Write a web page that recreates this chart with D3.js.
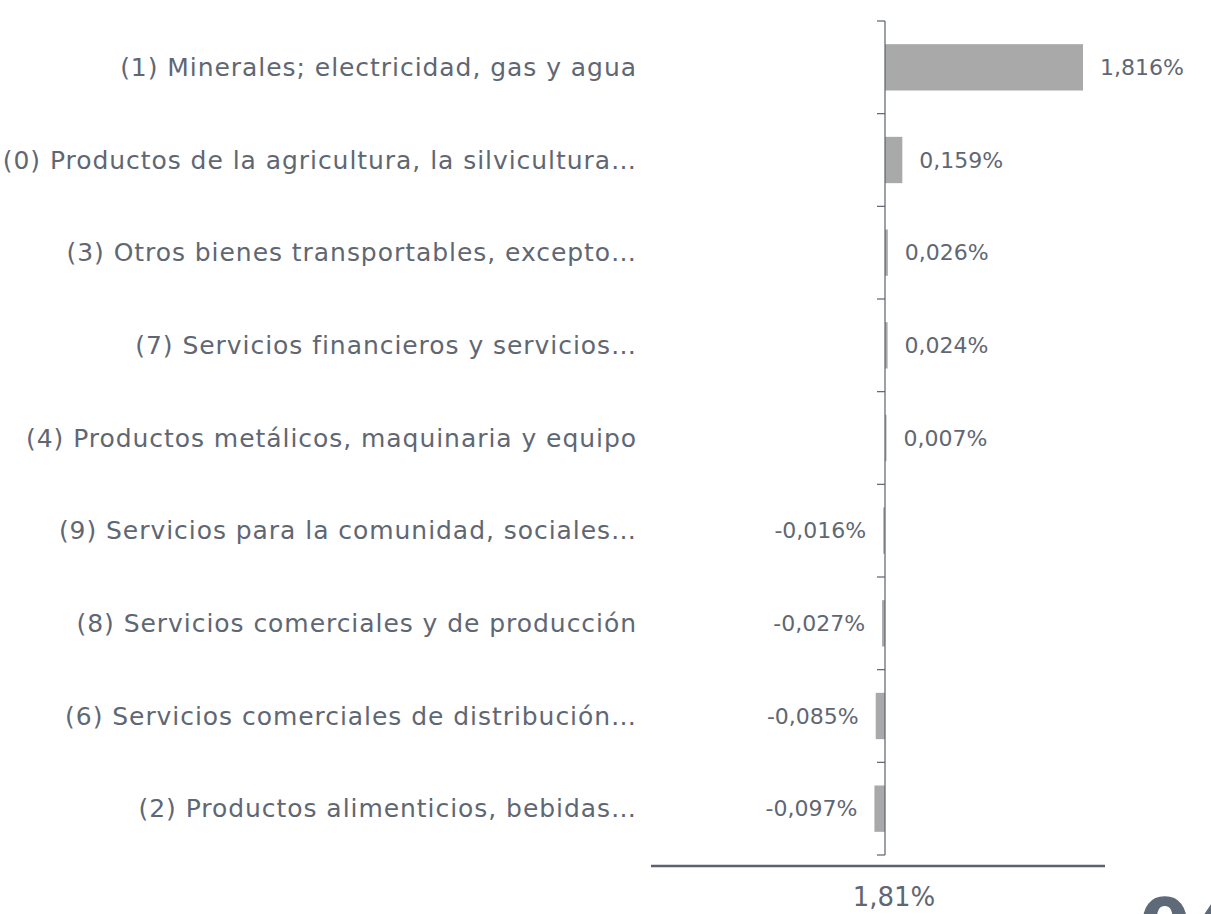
<!DOCTYPE html>
<html>
<head>
<meta charset="utf-8">
<script src="https://cdn.jsdelivr.net/npm/d3@7"></script>
<style>
	body { margin: 0; background: #fff; }
	svg { display: block; font-family: "Century Gothic", "DejaVu Sans", sans-serif; }
</style>
</head>
<body>
<div id="chart"></div>
<script>
	// categories, top to bottom
	const categories = [
		"(1) Minerales; electricidad, gas y agua",
		"(0) Productos de la agricultura, la silvicultura…",
		"(3) Otros bienes transportables, excepto…",
		"(7) Servicios financieros y servicios…",
		"(4) Productos metálicos, maquinaria y equipo",
		"(9) Servicios para la comunidad, sociales…",
		"(8) Servicios comerciales y de producción",
		"(6) Servicios comerciales de distribución…",
		"(2) Productos alimenticios, bebidas…",
	];
	const values = [1.816, 0.159, 0.026, 0.024, 0.007, -0.016, -0.027, -0.085, -0.097];
	const valueLabels = ["1,816%", "0,159%", "0,026%", "0,024%", "0,007%", "-0,016%", "-0,027%", "-0,085%", "-0,097%"];
	const totalLabel = "1,81%";
	const pageNumber = "04";

	const width = 1211;
	const height = 914;
	const textColor = "#5f6773";
	const axisColor = "#5a6270";
	const barColor = "#a9a9a9";

	const svg = d3
		.select("#chart")
		.append("svg")
		.attr("width", width)
		.attr("height", height);

	const y = d3
		.scaleBand()
		.domain(categories)
		.range([21, 855])
		.paddingInner(0.5)
		.paddingOuter(0.25);

	const x = d3.scaleLinear().domain([0, 1.816]).range([885, 1083]);

	// bars
	svg
		.append("g")
		.selectAll("rect")
		.data(values)
		.join("rect")
		.attr("x", (d) => Math.min(x(0), x(d)))
		.attr("y", (d, i) => y(categories[i]))
		.attr("width", (d) => Math.max(1.5, Math.abs(x(d) - x(0))))
		.attr("height", y.bandwidth())
		.attr("fill", barColor);

	// vertical axis with ticks between categories
	const gap = (y.step() - y.bandwidth()) / 2;
	const boundaries = categories.map((c) => y(c) - gap);
	boundaries.push(y(categories[categories.length - 1]) + y.bandwidth() + gap);

	const axis = svg.append("g").attr("stroke", axisColor).attr("stroke-width", 1.2);
	axis
		.append("line")
		.attr("x1", x(0))
		.attr("x2", x(0))
		.attr("y1", boundaries[0])
		.attr("y2", boundaries[boundaries.length - 1]);
	axis
		.selectAll("line.tick")
		.data(boundaries)
		.join("line")
		.attr("class", "tick")
		.attr("x1", x(0) - 8)
		.attr("x2", x(0))
		.attr("y1", (d) => d)
		.attr("y2", (d) => d);

	// category labels
	svg
		.append("g")
		.selectAll("text")
		.data(categories)
		.join("text")
		.attr("x", 637)
		.attr("y", (d) => y(d) + y.bandwidth() / 2)
		.attr("dy", "0.35em")
		.attr("text-anchor", "end")
		.attr("fill", textColor)
		.style("font-size", "25px")
		.style("letter-spacing", "0.95px")
		.text((d) => d);

	// value labels
	svg
		.append("g")
		.selectAll("text")
		.data(values)
		.join("text")
		.attr("x", (d) => (d >= 0 ? Math.max(x(d), x(0) + 1.5) + 17 : x(d) - 17))
		.attr("y", (d, i) => y(categories[i]) + y.bandwidth() / 2)
		.attr("dy", "0.35em")
		.attr("text-anchor", (d) => (d >= 0 ? "start" : "end"))
		.attr("fill", textColor)
		.style("font-size", "22px")
		.text((d, i) => valueLabels[i]);

	// total line + label
	svg
		.append("line")
		.attr("x1", 651)
		.attr("x2", 1105)
		.attr("y1", 866)
		.attr("y2", 866)
		.attr("stroke", axisColor)
		.attr("stroke-width", 2.5);

	svg
		.append("text")
		.attr("x", 894)
		.attr("y", 906)
		.attr("text-anchor", "middle")
		.attr("fill", textColor)
		.style("font-size", "26px")
		.text(totalLabel);

	// page number, cut at the bottom edge as in the reference
	svg
		.append("text")
		.attr("x", 1139)
		.attr("y", 952)
		.attr("fill", "#5e6a78")
		.style("font-size", "74px")
		.style("font-weight", "bold")
		.text(pageNumber);
</script>
</body>
</html>
